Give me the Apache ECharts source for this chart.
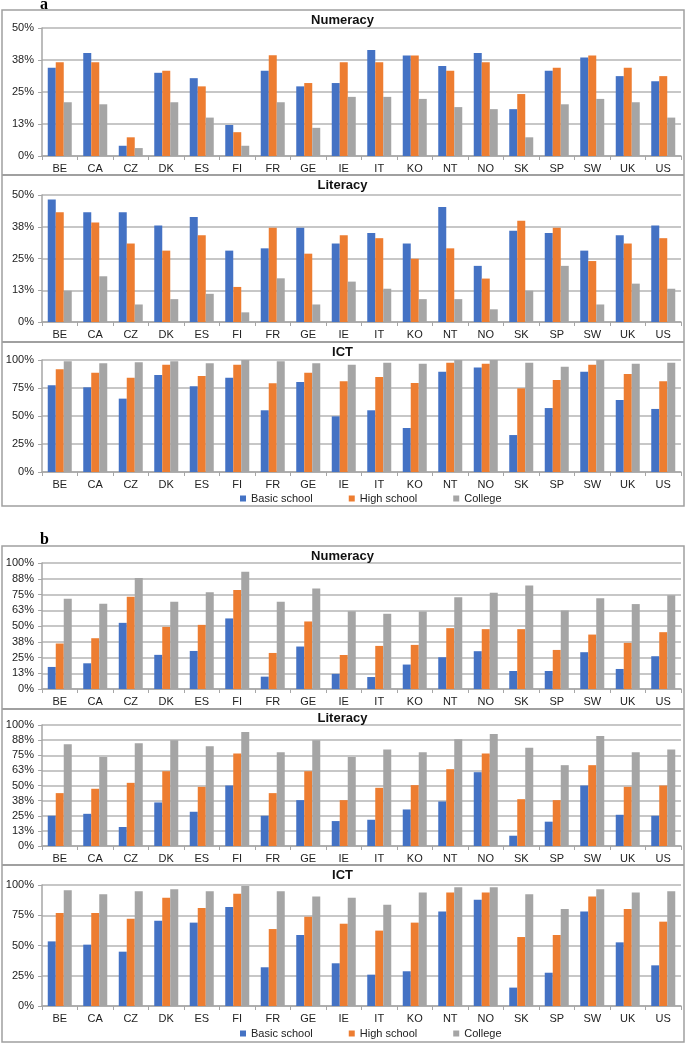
<!DOCTYPE html>
<html>
<head>
<meta charset="utf-8">
<script src="https://cdn.jsdelivr.net/npm/echarts@6/dist/echarts.min.js"></script>
<style>
body{margin:0;background:#fff;}
#chart{width:685px;height:1043px;}
</style>
</head>
<body>
<div id="chart"></div>
<script>
var countries = ['BE','CA','CZ','DK','ES','FI','FR','GE','IE','IT','KO','NT','NO','SK','SP','SW','UK','US'];
var seriesNames = ['Basic school','High school','College'];

// a
var aNumBasic   = [34.5,40.2,4.0,32.5,30.4,12.1,33.3,27.2,28.5,41.4,39.3,35.2,40.2,18.3,33.3,38.5,31.2,29.2];
var aNumHigh    = [36.6,36.6,7.3,33.3,27.2,9.3,39.4,28.5,36.6,36.6,39.3,33.3,36.6,24.2,34.5,39.3,34.5,31.2];
var aNumCollege = [21.0,20.2,3.1,21.0,15.0,4.0,21.0,11.0,23.1,23.1,22.3,19.1,18.3,7.3,20.2,22.3,21.0,15.0];

var aLitBasic   = [48.2,43.2,43.2,38.0,41.3,28.1,29.0,37.1,30.9,35.0,30.9,45.3,22.1,35.9,35.0,28.1,34.2,38.0];
var aLitHigh    = [43.2,39.2,30.9,28.1,34.2,13.8,37.1,26.9,34.2,33.0,24.9,29.0,17.1,39.9,37.1,24.0,30.9,33.0];
var aLitCollege = [12.3,18.0,6.9,9.0,11.1,3.8,17.2,6.9,15.9,13.1,9.0,9.0,5.0,12.3,22.1,6.9,15.1,13.1];

var aIctBasic   = [77.4,75.6,65.5,86.6,76.5,84.2,55.1,80.4,49.7,55.1,39.3,89.6,93.2,33.0,57.1,89.6,64.3,56.3];
var aIctHigh    = [91.7,88.7,84.2,95.8,85.7,95.8,79.2,88.7,81.0,84.8,79.5,97.6,96.7,74.7,82.1,95.8,87.5,81.0];
var aIctCollege = [98.8,97.0,97.9,98.8,97.0,100,98.8,97.0,95.8,97.6,96.7,100,100,97.6,94.0,100,96.7,97.6];

// b
var bNumBasic   = [17.5,20.4,52.5,27.1,30.2,56.0,9.8,33.7,12.0,9.5,19.4,25.2,30.0,14.3,14.3,29.2,15.9,26.0];
var bNumHigh    = [36.1,40.3,73.2,49.3,50.9,78.5,28.6,53.6,27.0,34.2,35.0,48.3,47.5,47.5,31.0,43.2,36.6,45.1];
var bNumCollege = [71.6,67.6,88.1,69.2,76.7,93.1,69.2,79.8,61.7,59.7,61.5,72.9,76.4,82.2,62.3,72.1,67.4,74.5];

var bLitBasic   = [25.0,26.6,15.7,36.0,28.3,50.0,25.0,37.9,20.6,21.7,30.2,36.8,61.0,8.5,20.1,50.0,25.8,25.0];
var bLitHigh    = [43.7,47.3,52.2,61.8,48.9,76.4,43.7,61.8,37.9,48.1,50.3,63.5,76.4,38.7,37.9,66.8,48.9,50.0];
var bLitCollege = [84.1,73.6,84.9,87.4,82.4,94.2,77.5,87.4,73.6,79.7,77.5,88.2,92.6,81.3,66.8,90.9,77.5,79.7];

var bIctBasic   = [53.4,50.7,44.9,70.5,68.9,81.8,32.0,58.7,35.3,25.9,28.7,78.2,87.9,15.2,27.5,78.2,52.6,33.6];
var bIctHigh    = [76.9,76.9,72.2,89.5,81.0,92.8,63.6,73.8,68.0,62.3,68.9,93.9,93.9,57.0,58.7,90.4,80.2,69.7];
var bIctCollege = [95.6,92.3,94.8,96.4,94.8,99.2,94.8,90.4,89.5,83.7,93.9,98.1,98.1,92.3,80.2,96.4,93.9,94.8];

var colors = ['#4472C4','#ED7D31','#A5A5A5'];
var font = '"Liberation Sans", Arial, sans-serif';
var frameColor = '#a0a0a0';

var panels = [
	{title:'Numeracy', top:28,  height:128, titleTop:14,  max:50,  interval:12.5, data:[aNumBasic,aNumHigh,aNumCollege]},
	{title:'Literacy', top:195, height:127, titleTop:179, max:50,  interval:12.5, data:[aLitBasic,aLitHigh,aLitCollege]},
	{title:'ICT',      top:360, height:112, titleTop:346, max:100, interval:25,   data:[aIctBasic,aIctHigh,aIctCollege]},
	{title:'Numeracy', top:563, height:126, titleTop:550, max:100, interval:12.5, data:[bNumBasic,bNumHigh,bNumCollege]},
	{title:'Literacy', top:725, height:121, titleTop:712, max:100, interval:12.5, data:[bLitBasic,bLitHigh,bLitCollege]},
	{title:'ICT',      top:885, height:121, titleTop:869, max:100, interval:25,   data:[bIctBasic,bIctHigh,bIctCollege]}
];

var option = {
	animation:false,
	color:colors,
	title:[],
	grid:[],
	xAxis:[],
	yAxis:[],
	series:[],
	legend:[],
	graphic:[]
};

for(var i = 0; i < panels.length; i++){
	var p = panels[i];
	option.title.push({
		text:p.title, left:'center', top:p.titleTop, padding:0,
		textStyle:{fontFamily:font, fontSize:13, fontWeight:'bold', color:'#111'}
	});
	option.grid.push({left:42, right:4, top:p.top, height:p.height});
	option.xAxis.push({
		type:'category', gridIndex:i, data:countries,
		axisLine:{lineStyle:{color:'#a6a6a6', width:1.5}},
		axisTick:{show:true, length:4, lineStyle:{color:'#a6a6a6'}},
		axisLabel:{fontFamily:font, fontSize:11, color:'#222', margin:7}
	});
	option.yAxis.push({
		type:'value', gridIndex:i, min:0, max:p.max, interval:p.interval,
		axisLine:{show:true, lineStyle:{color:'#a6a6a6', width:1.5}},
		axisTick:{show:true, length:4, lineStyle:{color:'#a6a6a6'}},
		splitLine:{lineStyle:{color:'#b4b4b4', width:1.5}},
		axisLabel:{fontFamily:font, fontSize:11, color:'#222', margin:8,
			formatter:function(v){ return Math.round(v) + '%'; }}
	});
	for(var s = 0; s < 3; s++){
		option.series.push({
			name:seriesNames[s], type:'bar', xAxisIndex:i, yAxisIndex:i,
			data:p.data[s], barWidth:8, barGap:'0%',
			itemStyle:{color:colors[s]}
		});
	}
}

// legends under the ICT panels
var legendTops = [493, 1028];
for(var l = 0; l < legendTops.length; l++){
	option.legend.push({
		data:seriesNames, left:240, top:legendTops[l], padding:0,
		icon:'rect', itemWidth:6, itemHeight:6, itemGap:36,
		textStyle:{fontFamily:font, fontSize:11, color:'#222'}
	});
}

// panel frames and letters
var frames = [
	{y:10, h:496, seps:[175, 342], letter:'a', ly:-3},
	{y:546, h:496, seps:[709, 865], letter:'b', ly:532}
];
for(var f = 0; f < frames.length; f++){
	var fr = frames[f];
	option.graphic.push({
		type:'rect', shape:{x:2, y:fr.y, width:682, height:fr.h},
		style:{fill:null, stroke:frameColor, lineWidth:1.5}
	});
	for(var k = 0; k < fr.seps.length; k++){
		option.graphic.push({
			type:'line', shape:{x1:2, y1:fr.seps[k], x2:684, y2:fr.seps[k]},
			style:{stroke:frameColor, lineWidth:2}
		});
	}
	option.graphic.push({
		type:'text', left:40, top:fr.ly,
		style:{text:fr.letter, font:'bold 16px "Liberation Serif", serif', fill:'#000'}
	});
}

var chart = echarts.init(document.getElementById('chart'));
chart.setOption(option);
</script>
</body>
</html>
